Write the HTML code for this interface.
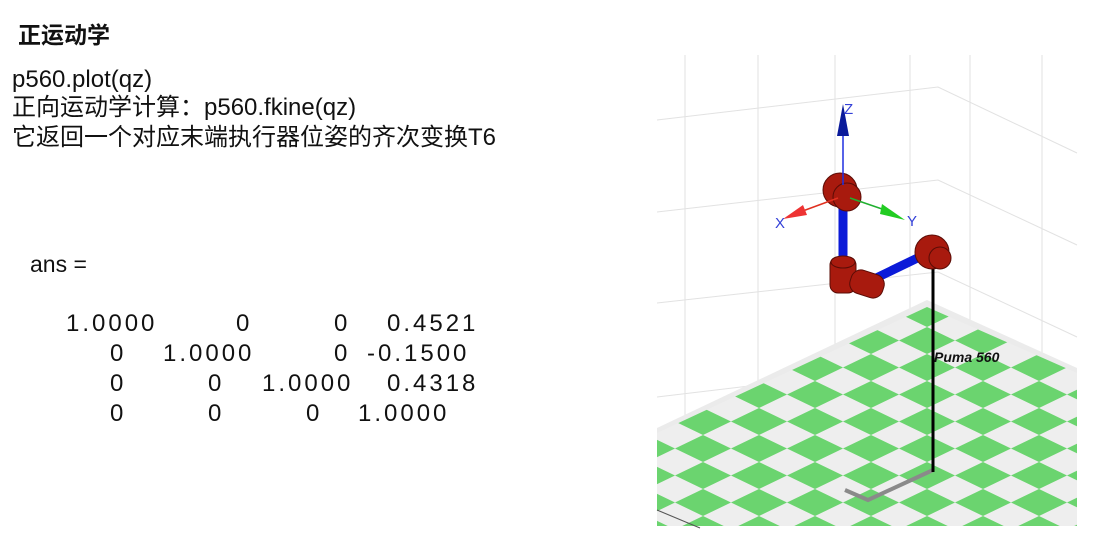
<!DOCTYPE html>
<html><head><meta charset="utf-8"><style>
body{margin:0;width:1097px;height:554px;background:#fff;position:relative;overflow:hidden;font-family:"Liberation Sans","Noto Sans CJK SC",sans-serif;color:#111}
.t{position:absolute;white-space:nowrap;line-height:28px}
.m{position:absolute;font-size:24px;letter-spacing:3px;white-space:nowrap;line-height:28px}
</style></head><body>
<div class="t" style="left:18px;top:21px;font-size:23px;font-weight:bold">正运动学</div>
<div class="t" style="left:12px;top:66px;font-size:24px">p560.plot(qz)</div>
<div class="t" style="left:12px;top:94px;font-size:24px">正向运动学计算：p560.fkine(qz)</div>
<div class="t" style="left:12px;top:124px;font-size:24px">它返回一个对应末端执行器位姿的齐次变换T6</div>
<div class="t" style="left:30px;top:250px;font-size:23px">ans =</div>
<div id="mat"></div>
<svg style="position:absolute;left:0;top:0" width="1097" height="554">
<defs>
<pattern id="chk" width="56" height="27" patternUnits="userSpaceOnUse" patternTransform="translate(955,327)">
<rect width="56" height="27" fill="#eeeeee"/>
<polygon points="28,0 56,13.5 28,27 0,13.5" fill="#6bd46f"/>
</pattern>
<clipPath id="fl"><polygon points="927,307 1077,373 1077,526 657,526 657,433"/></clipPath>
</defs>
<g stroke="#e2e2e2" stroke-width="1" fill="none">
<line x1="685" y1="55" x2="685" y2="440"/><line x1="758" y1="55" x2="758" y2="400"/>
<line x1="835" y1="55" x2="835" y2="360"/><line x1="910" y1="55" x2="910" y2="318"/>
<line x1="970" y1="55" x2="970" y2="322"/><line x1="1042" y1="55" x2="1042" y2="356"/>
<polyline points="657,120 938,87 1077,153"/><polyline points="657,212 938,180 1077,245"/>
<polyline points="657,303 938,272 1077,337"/><polyline points="657,397 900,368"/>
</g>
<polygon points="927,300 1077,368 1077,526 657,526 657,428" fill="#ebebeb"/>
<rect x="650" y="300" width="430" height="230" fill="url(#chk)" clip-path="url(#fl)"/>
<line x1="657" y1="510" x2="700" y2="528" stroke="#555" stroke-width="1"/>
<polyline points="933,470 868,500 845,490" fill="none" stroke="#8a8a8a" stroke-width="4"/>
<line x1="933" y1="262" x2="933" y2="472" stroke="#000" stroke-width="3"/>
<text x="934" y="362" font-size="14" font-weight="bold" font-style="italic" fill="#111">Puma 560</text>
<line x1="872" y1="280" x2="930" y2="252" stroke="#0b1ad8" stroke-width="9"/>
<line x1="843" y1="200" x2="843" y2="262" stroke="#0b1ad8" stroke-width="9"/>
<g fill="#a81a0e" stroke="#5a0c06" stroke-width="1">
<circle cx="932" cy="252" r="17"/><circle cx="940" cy="258" r="11"/>
<rect x="830" y="257" width="26" height="36" rx="8"/><ellipse cx="843" cy="262" rx="12" ry="6"/>
<rect x="850" y="272" width="34" height="24" rx="10" transform="rotate(18 867 284)"/>
<circle cx="840" cy="190" r="17"/><circle cx="847" cy="197" r="14"/>
</g>
<g>
<line x1="843" y1="185" x2="843" y2="135" stroke="#1f2fe0" stroke-width="1.5"/>
<polygon points="843,104 849,136 837,136" fill="#0a1a9a"/>
<text x="844" y="114" font-size="15" fill="#3340d8">Z</text>
<line x1="838" y1="198" x2="800" y2="212" stroke="#e03020" stroke-width="1.5"/>
<polygon points="783,219 803,205 807,215" fill="#e33"/>
<text x="775" y="228" font-size="15" fill="#3340d8">X</text>
<line x1="850" y1="198" x2="885" y2="210" stroke="#20b030" stroke-width="1.5"/>
<polygon points="905,220 882,204 880,214" fill="#2c2"/>
<text x="907" y="226" font-size="15" fill="#3340d8">Y</text>
</g>
</svg>
<script>
const matVals=[["1.0000","0","0","0.4521"],["0","1.0000","0","-0.1500"],["0","0","1.0000","0.4318"],["0","0","0","1.0000"]];
const m=document.getElementById('mat');
function cellLeft(v,i,j){
  // MATLAB-style padded fields rendered in a proportional font
  if(v==="0"){
    if(j===0) return 110;
    if(j===1) return row1Before(i) ? 236 : 208;
    if(j===2) return i<=1 ? 334 : 306;
  }
  if(j===3){
    if(v.startsWith("-")) return 367;
    if(v.startsWith("1")) return 358;
    return 387;
  }
  return [66,163,262][j];
}
function row1Before(i){return i===0;}
matVals.forEach((row,i)=>row.forEach((v,j)=>{
 const d=document.createElement('div');d.className='m';
 
 
 d.style.left=cellLeft(v,i,j)+'px';d.style.top=(310+i*30)+'px';d.textContent=v;m.appendChild(d);
}));
</script>
</body></html>
